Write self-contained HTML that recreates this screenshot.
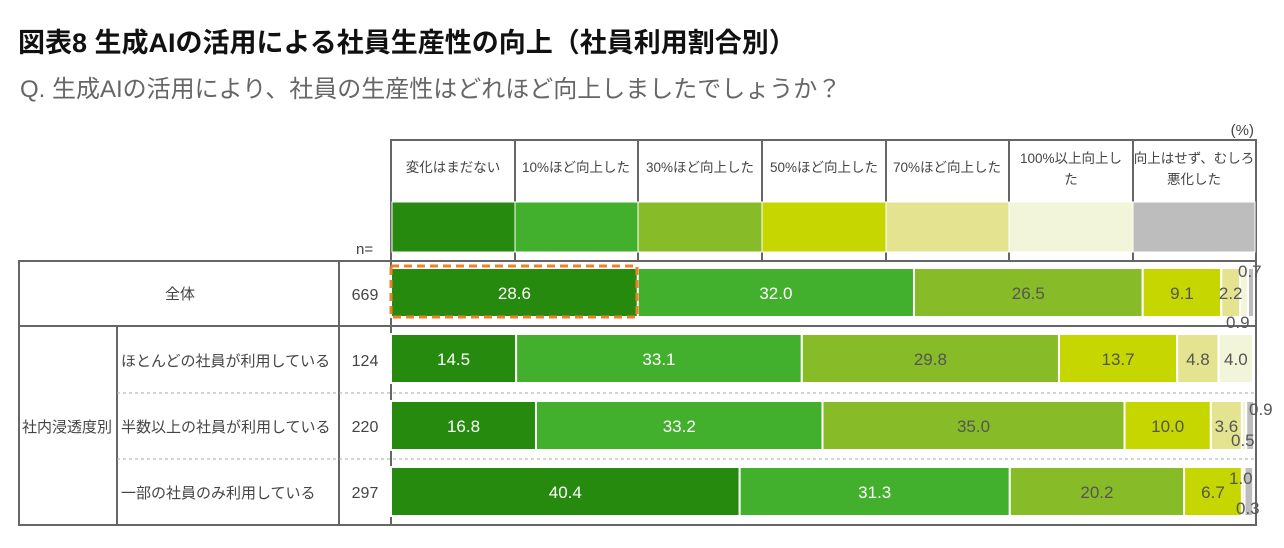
<!DOCTYPE html>
<html><head><meta charset="utf-8"><style>
body{margin:0;background:#fff;}
svg{display:block;font-family:"Liberation Sans","Noto Sans CJK JP",sans-serif;}
</style></head><body>
<svg width="1284" height="548" viewBox="0 0 1284 548" xmlns="http://www.w3.org/2000/svg">
<text x="18" y="52" font-size="27" font-weight="bold" fill="#111">図表8 生成AIの活用による社員生産性の向上（社員利用割合別）</text>
<text x="20" y="97" font-size="24" fill="#666">Q. 生成AIの活用により、社員の生産性はどれほど向上しましたでしょうか？</text>
<text x="1254" y="135" font-size="15" fill="#444" text-anchor="end">(%)</text>
<g stroke="#666" stroke-width="2" fill="none">
<rect x="391" y="140" width="865" height="385"/>
<line x1="515" y1="140" x2="515" y2="261"/><line x1="638" y1="140" x2="638" y2="261"/>
<line x1="762" y1="140" x2="762" y2="261"/><line x1="886" y1="140" x2="886" y2="261"/>
<line x1="1009" y1="140" x2="1009" y2="261"/><line x1="1133" y1="140" x2="1133" y2="261"/>
<rect x="19" y="261" width="1237" height="264"/>
<line x1="19" y1="326" x2="1256" y2="326"/>
<line x1="117" y1="326" x2="117" y2="525"/>
<line x1="339" y1="261" x2="339" y2="525"/>
</g>
<g stroke="#aaa" stroke-width="1" stroke-dasharray="3,3">
<line x1="117" y1="393" x2="1256" y2="393"/><line x1="117" y1="459" x2="1256" y2="459"/>
</g>
<g font-size="13.5" fill="#444" text-anchor="middle">
<text x="453" y="172">変化はまだない</text><text x="576" y="172">10%ほど向上した</text>
<text x="700" y="172">30%ほど向上した</text><text x="824" y="172">50%ほど向上した</text>
<text x="947" y="172">70%ほど向上した</text>
<text x="1071" y="163">100%以上向上し</text><text x="1071" y="184">た</text>
<text x="1194" y="163">向上はせず、むしろ</text><text x="1194" y="184">悪化した</text>
</g>
<g stroke="#fff" stroke-width="1">
<rect x="392" y="202" width="123" height="50" fill="#268a0e"/>
<rect x="515" y="202" width="123" height="50" fill="#42b02c"/>
<rect x="638" y="202" width="124" height="50" fill="#87bb28"/>
<rect x="762" y="202" width="124" height="50" fill="#c5d600"/>
<rect x="886" y="202" width="123" height="50" fill="#e4e490"/>
<rect x="1009" y="202" width="124" height="50" fill="#f2f5d9"/>
<rect x="1133" y="202" width="122" height="50" fill="#bdbdbd"/>
</g>
<g font-size="15" fill="#444">
<text x="356" y="254">n=</text>
<text x="180" y="299" text-anchor="middle">全体</text>
<text x="365" y="300" text-anchor="middle" font-size="16">669</text>
<text x="22" y="432">社内浸透度別</text>
<text x="121" y="366">ほとんどの社員が利用している</text>
<text x="121" y="432">半数以上の社員が利用している</text>
<text x="121" y="498">一部の社員のみ利用している</text>
<text x="365" y="366" text-anchor="middle" font-size="16">124</text>
<text x="365" y="432" text-anchor="middle" font-size="16">220</text>
<text x="365" y="498" text-anchor="middle" font-size="16">297</text>
</g>
<g id="bars" stroke="#fff" stroke-width="2"></g>
<g id="labels" font-size="17"></g>
<rect x="391" y="266" width="246" height="51" fill="none" stroke="#f07f2a" stroke-width="3" stroke-dasharray="8,5"/>
<g font-size="17" fill="#555">
<text x="1238" y="277">0.7</text><text x="1226" y="328">0.9</text>
<text x="1249" y="415">0.9</text><text x="1231" y="446">0.5</text>
<text x="1229" y="484">1.0</text><text x="1236" y="514">0.3</text>
</g>
<script>
var cols=["#268a0e","#42b02c","#87bb28","#c5d600","#e4e490","#f2f5d9","#bdbdbd"];
var rows=[[268,[28.6,32.0,26.5,9.1,2.2,0.9,0.7]],[334,[14.5,33.1,29.8,13.7,4.8,4.0,0]],[401,[16.8,33.2,35.0,10.0,3.6,0.5,0.9]],[467,[40.4,31.3,20.2,6.7,0.3,0,1.0]]];
var b=document.getElementById("bars"),l=document.getElementById("labels"),ns="http://www.w3.org/2000/svg";
rows.forEach(function(r){var x=391;r[1].forEach(function(v,i){var w=v*8.63;if(w>0){var e=document.createElementNS(ns,"rect");e.setAttribute("x",x);e.setAttribute("y",r[0]);e.setAttribute("width",w);e.setAttribute("height",49);e.setAttribute("fill",cols[i]);b.appendChild(e);
if(v>=2){var t=document.createElementNS(ns,"text");t.setAttribute("x",x+w/2);t.setAttribute("y",r[0]+31);t.setAttribute("text-anchor","middle");t.setAttribute("fill",i<2?"#fff":"#555");t.textContent=v.toFixed(1);l.appendChild(t);}}x+=w;});});
</script>
</svg>
</body></html>
